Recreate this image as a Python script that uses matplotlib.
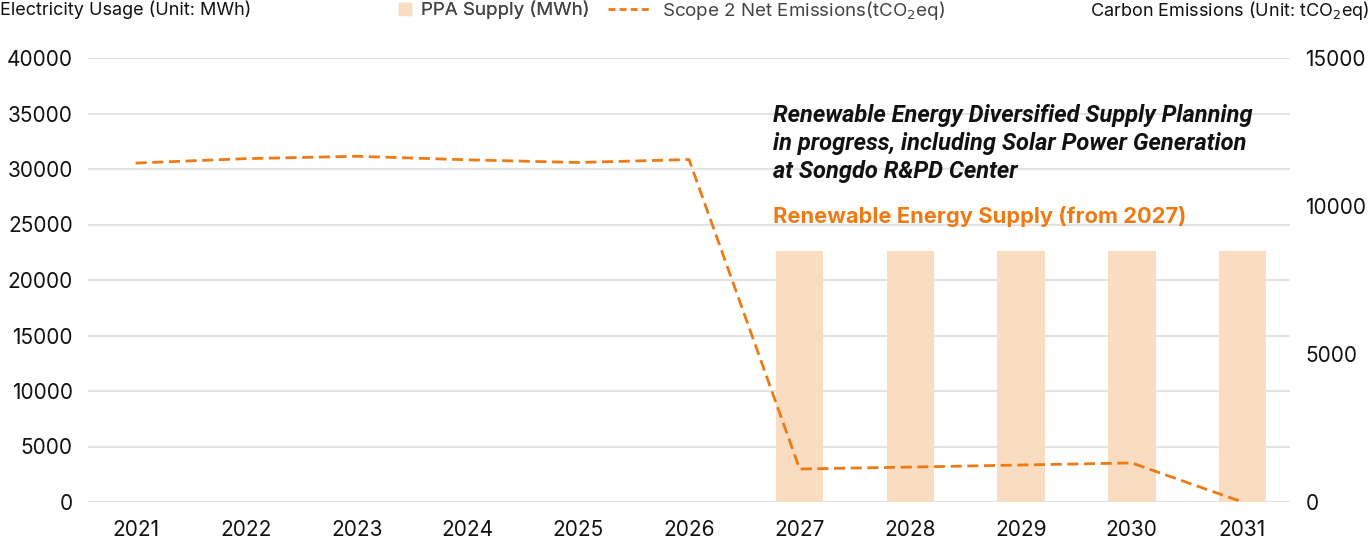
import matplotlib.pyplot as plt
from matplotlib.lines import Line2D

plt.rcParams['font.family'] = ['Inter', 'DejaVu Sans']

# Datos
years = ['2021', '2022', '2023', '2024', '2025', '2026', '2027', '2028', '2029', '2030', '2031']
ppa_supply = [0, 0, 0, 0, 0, 0, 22600, 22600, 22600, 22600, 22600]          # MWh
scope2_emissions = [11450, 11600, 11680, 11560, 11470, 11570, 1115, 1180, 1250, 1320, 0]  # tCO2eq

orange = '#EE7A14'
bar_color = '#FADDC0'
grid_color = '#E3E3E3'

fig = plt.figure(figsize=(13.69, 5.41), dpi=100)
ax = fig.add_axes([88 / 1369, 39 / 541, (1290 - 88) / 1369, 444 / 541])
ax2 = ax.twinx()

x = list(range(len(years)))

# Barras PPA (eje izquierdo)
ax.bar(x, ppa_supply, width=0.43, color=bar_color, zorder=2)
ax.set_ylim(0, 40000)
ax.set_yticks(range(0, 40001, 5000))
ax.set_xlim(-0.43, len(years) - 1 + 0.43)
ax.set_xticks(x)
ax.set_xticklabels(years)
ax.grid(axis='y', color=grid_color, linewidth=1.5, zorder=0)
ax.set_axisbelow(True)

# Linea de emisiones (eje derecho)
ax2.plot(x, scope2_emissions, color=orange, linewidth=2, linestyle=(0, (4, 2)), zorder=3)
ax2.set_ylim(0, 15000)
ax2.set_yticks([0, 5000, 10000, 15000])

for a in (ax, ax2):
    for s in a.spines.values():
        s.set_visible(False)
    a.tick_params(length=0, labelsize=15, colors='#111111')
ax.tick_params(axis='y', pad=11)
ax.tick_params(axis='x', pad=13)
ax2.tick_params(axis='y', pad=11)

# Titulos de ejes
fig.text(0, 1 - 10 / 541, 'Electricity Usage (Unit: MWh)', ha='left', va='center', fontsize=13, color='#111111')
fig.text(1, 1 - 10 / 541, 'Carbon Emissions (Unit: tCO$_2$eq)', ha='right', va='center', fontsize=13, color='#111111')

# Leyenda (dos piezas para controlar el tamano de cada simbolo)
h_ppa = Line2D([0], [0], marker='s', markersize=9, color=bar_color, linestyle='none')
h_line = Line2D([0], [0], color=orange, linewidth=2, linestyle=(0, (2.5, 1.5)))
leg1 = fig.legend([h_ppa], ['PPA Supply (MWh)'], loc='center left', bbox_to_anchor=(398 / 1369, 1 - 10 / 541),
                  frameon=False, fontsize=13.5, handlelength=0.7, handletextpad=0.5, borderpad=0, borderaxespad=0,
                  labelcolor='#444444')
leg2 = fig.legend([h_line], ['Scope 2 Net Emissions(tCO$_2$eq)'], loc='center left', bbox_to_anchor=(608 / 1369, 1 - 10 / 541),
                  frameon=False, fontsize=13.5, handlelength=2.3, handletextpad=0.6, borderpad=0, borderaxespad=0,
                  labelcolor='#444444')
fig.add_artist(leg1)

# Anotaciones
ax.text(6 - 0.24, 35900, 'Renewable Energy Diversified Supply Planning\nin progress, including Solar Power Generation\nat Songdo R&PD Center',
        ha='left', va='top', fontsize=17, fontweight='bold', fontstyle='italic', linespacing=1.29,
        color='#111111', family=['Roboto', 'DejaVu Sans'], zorder=5)
ax.text(6 - 0.24, 25700, 'Renewable Energy Supply (from 2027)', ha='left', va='center',
        fontsize=15.8, fontweight='bold', color=orange, zorder=5)

fig.savefig('out.png', dpi=100)
